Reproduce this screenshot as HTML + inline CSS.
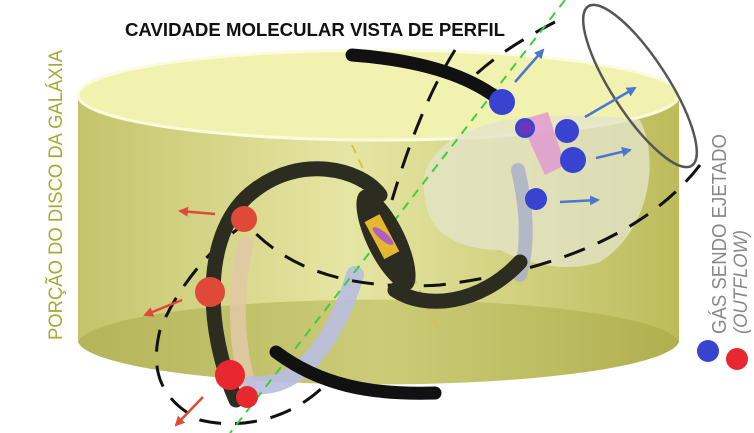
<!DOCTYPE html>
<html><head><meta charset="utf-8"><style>
html,body{margin:0;padding:0;background:#fff;width:754px;height:433px;overflow:hidden}
svg{display:block}
text{font-family:"Liberation Sans",sans-serif}
</style></head><body>
<svg width="754" height="433" viewBox="0 0 754 433" xmlns="http://www.w3.org/2000/svg">
<defs>
<linearGradient id="body" x1="0" x2="1" y1="0" y2="0">
<stop offset="0" stop-color="#c4c46c"/><stop offset="0.45" stop-color="#e6e6a4"/><stop offset="1" stop-color="#bcbc5c"/>
</linearGradient>
<linearGradient id="bot" x1="0" x2="1">
<stop offset="0" stop-color="#b4b45a"/><stop offset="0.5" stop-color="#cccc78"/><stop offset="1" stop-color="#b0b050"/>
</linearGradient>
<marker id="ab" viewBox="0 0 10 10" refX="8" refY="5" markerWidth="4" markerHeight="4" orient="auto"><path d="M0,0L10,5L0,10z" fill="#4a78d0"/></marker>
<marker id="ar" viewBox="0 0 10 10" refX="8" refY="5" markerWidth="4" markerHeight="4" orient="auto"><path d="M0,0L10,5L0,10z" fill="#e04838"/></marker>
</defs>
<rect x="78" y="95" width="601" height="247" fill="url(#body)"/>
<path d="M78,342 A301,45 0 0 1 679,342 A301,45 0 0 1 78,342z" fill="url(#bot)"/>
<ellipse cx="378.5" cy="95" rx="300.5" ry="45" fill="#f2f2b0" stroke="#fbfbe0" stroke-width="3"/>
<path d="M440,150 C470,115 560,110 640,120 C660,160 650,230 600,262 C560,275 520,260 500,250 C470,250 430,240 425,200 C420,170 430,160 440,150z" fill="#e4e4c8" opacity="0.8"/>
<path d="M518,170 C525,200 530,240 520,275" stroke="#aab0c8" stroke-width="14" fill="none" opacity="0.85" stroke-linecap="round"/>
<path d="M520,120 L548,112 L565,165 L545,175z" fill="#e29ad0" opacity="0.85"/>
<path d="M245,245 C235,290 235,340 248,385" stroke="#e2c8a6" stroke-width="16" fill="none" opacity="0.85" stroke-linecap="round"/>
<path d="M252,385 C300,390 335,340 355,275" stroke="#b8bee0" stroke-width="18" fill="none" opacity="0.9" stroke-linecap="round"/>
<g stroke="#111" stroke-width="3" fill="none" stroke-dasharray="22,14">
<path d="M455,50 C430,90 410,140 392,200"/>
<path d="M700,165 C650,230 560,270 440,285 C360,290 290,275 245,222"/>
<path d="M250,220 C220,240 180,280 160,330 C150,370 160,400 200,420 C240,430 290,420 325,385"/>
<path d="M555,22 C520,40 490,60 470,80"/>
</g>
<line x1="565" y1="0" x2="230" y2="433" stroke="#3ccf3c" stroke-width="2" stroke-dasharray="9,7"/>
<line x1="352" y1="145" x2="438" y2="330" stroke="#d8c040" stroke-width="2" stroke-dasharray="9,7"/>
<ellipse cx="640" cy="86" rx="28" ry="95" transform="rotate(-33 640 86)" fill="none" stroke="#555" stroke-width="2.5"/>
<g stroke="#2c2c20" fill="none" stroke-linecap="round">
<path d="M352,55 C420,60 470,75 502,102" stroke-width="13" stroke="#111"/>
<path d="M276,352 C320,385 370,395 435,393" stroke-width="13" stroke="#111"/>
<path d="M236,400 C205,330 200,230 255,190 C300,155 360,168 380,195" stroke-width="15"/>
<path d="M395,290 C425,310 480,305 520,262" stroke-width="15"/>
</g>
<ellipse cx="386" cy="240" rx="19" ry="55" transform="rotate(-26 386 240)" fill="#2c2c20"/>
<rect x="373" y="216" width="17" height="42" transform="rotate(-28 381 236)" fill="#e6b830"/>
<ellipse cx="383" cy="236" rx="4" ry="13" transform="rotate(-50 383 236)" fill="#b060c0"/>
<g fill="#3844d0">
<circle cx="502" cy="102" r="13"/><circle cx="525" cy="128" r="10"/><circle cx="567" cy="131" r="12"/>
<circle cx="573" cy="160" r="13"/><circle cx="536" cy="199" r="11"/><circle cx="708" cy="351" r="11"/>
</g>
<circle cx="525" cy="128" r="7" fill="#8a30b0" opacity="0.6"/>
<g fill="#e04838">
<circle cx="244" cy="219" r="13"/><circle cx="210" cy="292" r="15"/>
</g>
<g fill="#e82830">
<circle cx="230" cy="375" r="15"/><circle cx="247" cy="397" r="11"/><circle cx="737" cy="359" r="11"/>
</g>
<g stroke="#4a78d0" stroke-width="2.5" marker-end="url(#ab)">
<line x1="515" y1="82" x2="543" y2="50"/><line x1="585" y1="117" x2="635" y2="88"/>
<line x1="596" y1="158" x2="630" y2="150"/><line x1="560" y1="202" x2="598" y2="200"/>
</g>
<g stroke="#e04838" stroke-width="2.5" marker-end="url(#ar)">
<line x1="215" y1="214" x2="180" y2="211"/><line x1="182" y1="300" x2="145" y2="315"/>
<line x1="203" y1="397" x2="176" y2="425"/>
</g>
<text x="125" y="36" font-size="18" font-weight="bold" fill="#111" textLength="380" lengthAdjust="spacingAndGlyphs">CAVIDADE MOLECULAR VISTA DE PERFIL</text>
<text transform="translate(62,340) rotate(-90)" font-size="19" fill="#a8a830" textLength="290" lengthAdjust="spacingAndGlyphs">PORÇÃO DO DISCO DA GALÁXIA</text>
<text transform="translate(726,334) rotate(-90)" font-size="20" fill="#888" textLength="200" lengthAdjust="spacingAndGlyphs">GÁS SENDO EJETADO</text>
<text transform="translate(747,334) rotate(-90)" font-size="19" fill="#888" font-style="italic" textLength="104" lengthAdjust="spacingAndGlyphs">(OUTFLOW)</text>
</svg>
</body></html>
